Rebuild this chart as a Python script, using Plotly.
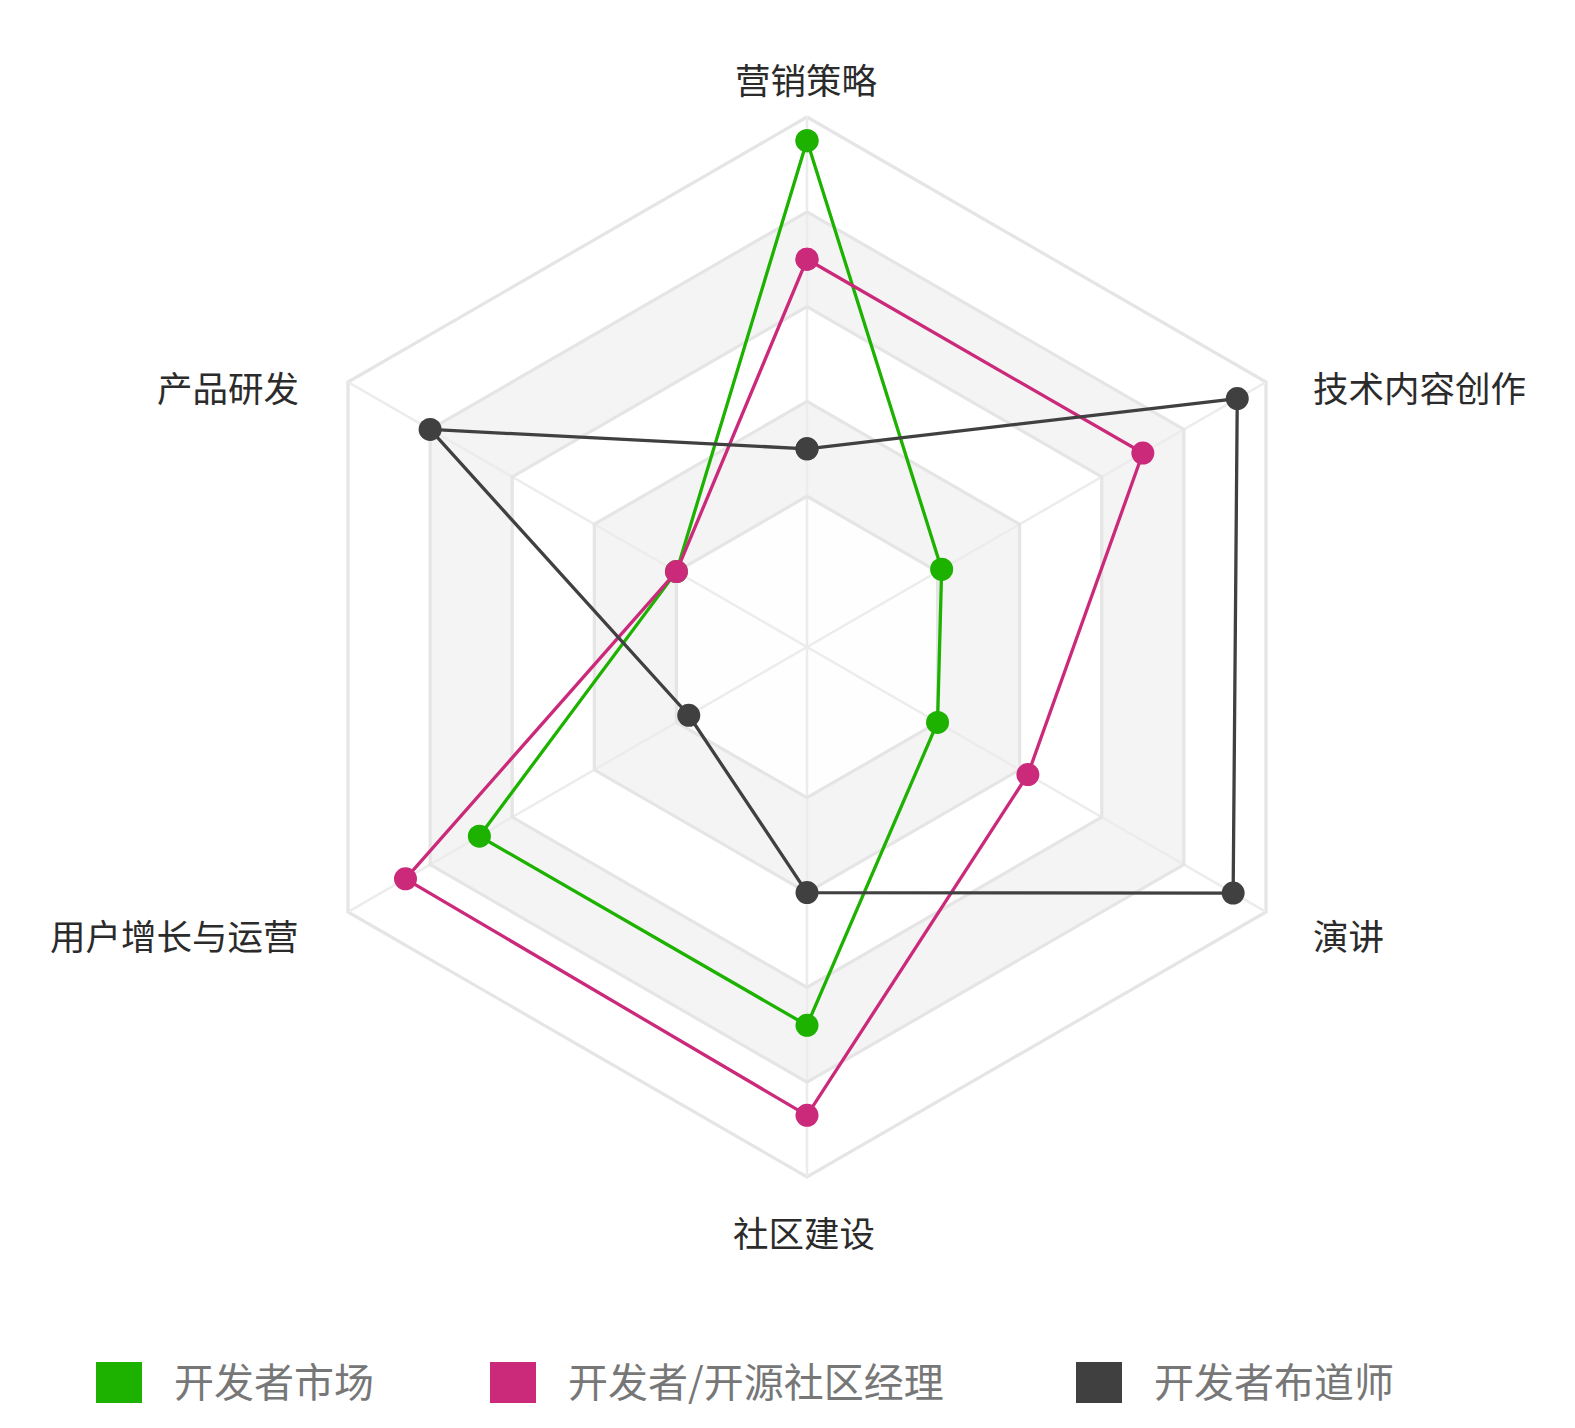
import plotly.graph_objects as go

# ---------------- data ----------------
categories = ['营销策略', '产品研发', '用户增长与运营', '社区建设', '演讲', '技术内容创作']
series_names = ['开发者市场', '开发者/开源社区经理', '开发者布道师']
market = [9.5, 2.0, 6.8, 6.8, 2.0, 2.1]
community_mgr = [7.0, 2.0, 8.6, 8.7, 4.2, 7.0]
evangelist = [3.0, 8.0, 1.7, 4.0, 9.2, 9.3]
ring_levels = [2, 4, 6, 8]
radial_min = -1.18
radial_max = 10

# ---------------- style ----------------
colors = ['#1db100', '#cb2a7b', '#404040']
band_fill = {8: '#f4f4f4', 6: '#ffffff', 4: '#f4f4f4', 2: '#fefefe'}
W, H = 1575, 1428
cx, cy, R = 807, 647, 530

# category label placement (pixel anchor, xanchor)
label_pos = {
    '营销策略': (806, 78, 'center'),
    '产品研发': (301, 387, 'right'),
    '用户增长与运营': (301, 934, 'right'),
    '社区建设': (804, 1231, 'center'),
    '演讲': (1311, 934, 'left'),
    '技术内容创作': (1311, 387, 'left'),
}


def closed(vals):
    return list(vals) + [vals[0]]


theta_closed = closed(categories)
fig = go.Figure()

# split areas (alternating bands)
for lvl in [8, 6, 4, 2]:
    fig.add_trace(go.Scatterpolar(
        r=[lvl] * 7, theta=theta_closed, mode='lines', fill='toself',
        fillcolor=band_fill[lvl], line=dict(width=0, color='rgba(0,0,0,0)'),
        hoverinfo='skip', showlegend=False))

# spokes
sp_r, sp_t = [], []
for c in categories:
    sp_r += [radial_min, radial_max, None]
    sp_t += [c, c, None]
fig.add_trace(go.Scatterpolar(
    r=sp_r, theta=sp_t, mode='lines', line=dict(color='#ececec', width=2.5),
    hoverinfo='skip', showlegend=False, connectgaps=False))

# inner ring lines
for lvl in ring_levels:
    fig.add_trace(go.Scatterpolar(
        r=[lvl] * 7, theta=theta_closed, mode='lines',
        line=dict(color='#e5e5e5', width=3.2),
        hoverinfo='skip', showlegend=False))

# data series
for name, vals, col in zip(series_names, [market, community_mgr, evangelist], colors):
    fig.add_trace(go.Scatterpolar(
        r=closed(vals), theta=theta_closed, mode='lines+markers', name=name,
        line=dict(color=col, width=3.3), marker=dict(color=col, size=23),
        showlegend=False, cliponaxis=False))

fig.update_layout(
    width=W, height=H,
    margin=dict(l=0, r=0, t=0, b=0),
    paper_bgcolor='white',
    polar=dict(
        domain=dict(x=[(cx - R) / W, (cx + R) / W],
                    y=[(H - cy - R) / H, (H - cy + R) / H]),
        gridshape='linear',
        bgcolor='white',
        radialaxis=dict(range=[radial_min, radial_max], showgrid=False,
                        showline=False, showticklabels=False, ticks=''),
        angularaxis=dict(
            type='category', categoryarray=categories,
            rotation=90, direction='counterclockwise',
            showgrid=False, showline=True, linecolor='#e5e5e5', linewidth=3.2,
            layer='below traces', showticklabels=False, ticks=''),
    ),
)

# category labels
for c in categories:
    x, y, xa = label_pos[c]
    fig.add_annotation(xref='paper', yref='paper', x=x / W, y=1 - y / H,
                       xanchor=xa, yanchor='middle', text=c, showarrow=False,
                       font=dict(family='Noto Sans CJK SC', size=35.5, color='#2b2b2b'))

# legend drawn as swatches + text
legend_x = [96, 490, 1076]
sq_w, sq_h = 46, 41
sq_top = 1362
for name, col, x0 in zip(series_names, colors, legend_x):
    fig.add_shape(type='rect', xref='paper', yref='paper',
                  x0=x0 / W, x1=(x0 + sq_w) / W,
                  y0=1 - (sq_top + sq_h) / H, y1=1 - sq_top / H,
                  fillcolor=col, line=dict(width=0))
    fig.add_annotation(xref='paper', yref='paper', x=(x0 + 76) / W,
                       y=1 - 1380 / H, xanchor='left', yanchor='middle',
                       text=name, showarrow=False,
                       font=dict(family='Noto Sans CJK SC', size=40, color='#777777'))

fig.write_html('out.html')
